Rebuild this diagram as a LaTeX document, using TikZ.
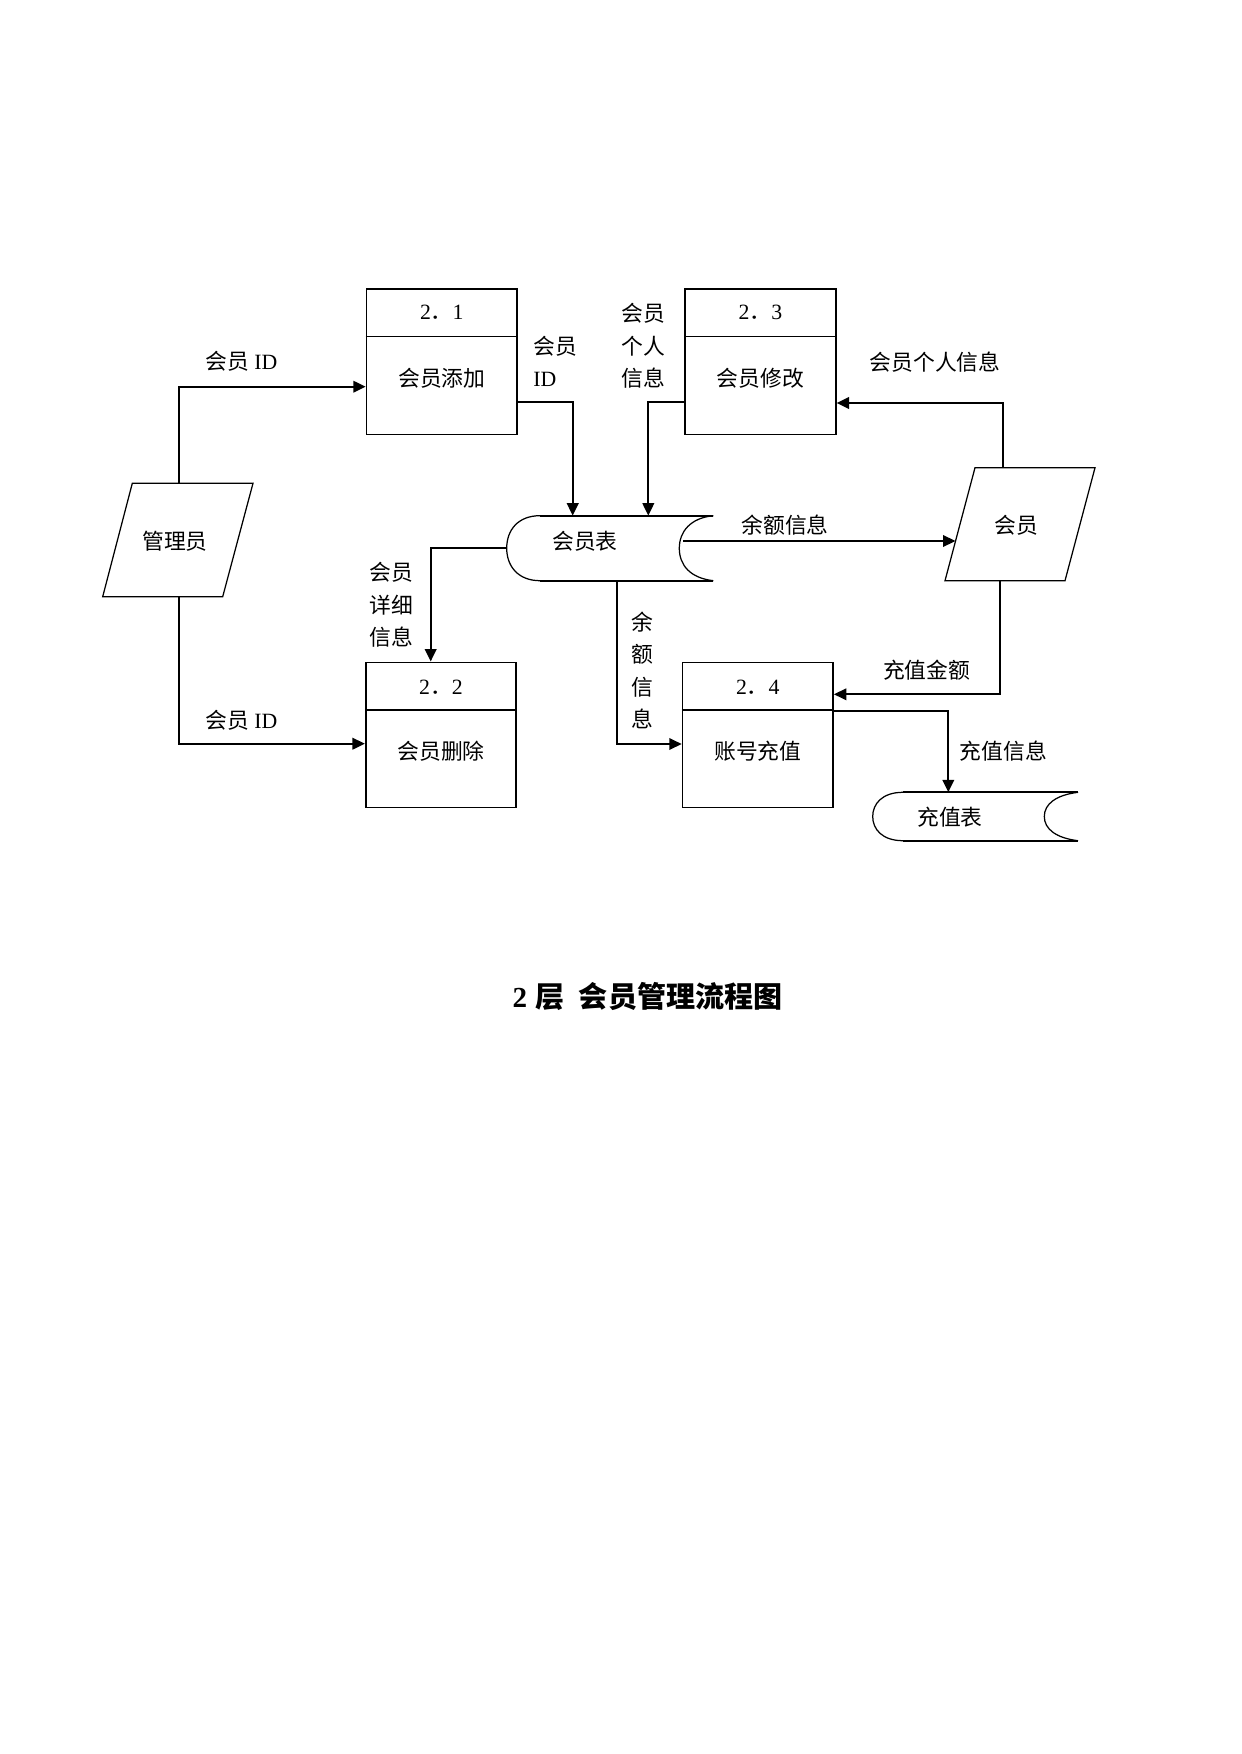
\documentclass[tikz,border=0pt]{standalone}
\usepackage{fontspec}
\setmainfont{Liberation Serif}
\newfontfamily\cjk{Noto Sans CJK SC}
\newfontfamily\latf{Liberation Serif}
\usetikzlibrary{arrows.meta,calc}
\begin{document}
\begin{tikzpicture}[x=0.4818pt,y=-0.4818pt,
  txt/.style={font=\cjk\fontsize{10.5}{15.6}\selectfont, inner sep=0pt, align=center},
  proc/.style={draw, line width=0.8pt, rectangle, minimum width=72.5pt, minimum height=70pt, inner sep=0pt},
  flow/.style={line width=1.1pt, -{Triangle[length=6pt,width=5.5pt]}},
  thinline/.style={line width=0.6pt},
  thickline/.style={line width=1.1pt},
  ]
\useasboundingbox (0,0) rectangle (1241,1754);

% ---------- process boxes ----------
\node[proc] (b21) at (441.8,361.7) {};
\node[proc] (b23) at (760.5,361.7) {};
\node[proc] (b22) at (441,735) {};
\node[proc] (b24) at (757.8,735) {};
\foreach \b in {b21,b23,b22,b24}{
  \draw[line width=0.7pt] ($(\b.north west)+(0,48.3)$) -- ($(\b.north east)+(0,48.3)$);
}
\node[txt] (t21) at ($(b21.north)+(0,24.5)$) {{\latf 2}．{\latf 1}};
\node[txt] (n21) at ($(b21.north)+(0,90)$) {会员添加};
\node[txt] (t23) at ($(b23.north)+(0,24.5)$) {{\latf 2}．{\latf 3}};
\node[txt] (n23) at ($(b23.north)+(0,90)$) {会员修改};
\node[txt] (t22) at ($(b22.north)+(0,25.5)$) {{\latf 2}．{\latf 2}};
\node[txt] (n22) at ($(b22.north)+(0,90)$) {会员删除};
\node[txt] (t24) at ($(b24.north)+(0,25.5)$) {{\latf 2}．{\latf 4}};
\node[txt] (n24) at ($(b24.north)+(0,90)$) {账号充值};

% ---------- external entities (parallelograms) ----------
\draw[thinline] (132.3,483.3) -- (253,483.3) -- (222.7,596.7) -- (102.7,596.7) -- cycle;
\node[txt] (mgr) at (175,541) {管理员};
\coordinate (mgrT) at (179,483.3);
\coordinate (mgrB) at (179,596.7);

\draw[thinline] (975,467.7) -- (1095,467.7) -- (1065,580.7) -- (945,580.7) -- cycle;
\node[txt] (hy) at (1016,525.7) {会员};
\coordinate (hyT) at (1002.7,467.7);
\coordinate (hyB) at (1000,580.7);
\coordinate (hyL) at (955.5,541);

% ---------- data stores ----------
\draw[thickline] (713.3,515.7) -- (540,515.7);
\draw[thickline] (540,580.7) -- (713.3,580.7);
\draw[thinline] (540,515.7) .. controls (518,515.7) and (506.7,530) .. (506.7,548.3)
  .. controls (506.7,566) and (518,580.7) .. (540,580.7);
\draw[thinline] (713.3,515.7) .. controls (690,518) and (679.3,532) .. (679.3,548.3)
  .. controls (679.3,565) and (690,578) .. (713.3,580.7);
\node[txt] (memtab) at (585,541.7) {会员表};
\coordinate (memT1) at (572.7,515.7);
\coordinate (memT2) at (648.3,515.7);
\coordinate (memL) at (506.7,548.3);
\coordinate (memB) at (616.7,580.7);
\coordinate (memR) at (683,541);

\draw[thickline] (1078,792.3) -- (903,792.3);
\draw[thickline] (903,840.7) -- (1078,840.7);
\draw[thinline] (903,792.3) .. controls (882,792.3) and (872.7,804) .. (872.7,816.5)
  .. controls (872.7,829) and (882,840.7) .. (903,840.7);
\draw[thinline] (1078,792.3) .. controls (1056,795) and (1044.3,804) .. (1044.3,816.5)
  .. controls (1044.3,829) and (1056,838) .. (1078,840.7);
\node[txt] (cztab) at (950,816.7) {充值表};
\coordinate (czT) at (948.3,792.3);

% ---------- flows ----------
\draw[flow] (mgrT) |- ($(b21.west)+(0,25)$);
\draw[flow] (mgrB) |- ($(b22.west)+(0,8.7)$);
\draw[flow] ($(b21.east)+(0,40.6)$) -| (memT1);
\draw[flow] ($(b23.west)+(0,40.6)$) -| (memT2);
\draw[flow] (memL) -| ($(b22.north)+(-10.3,0)$);
\draw[flow] (memB) |- ($(b24.west)+(0,9)$);
\draw[flow] (memR) -- (hyL);
\draw[flow] (hyT) |- ($(b23.east)+(0,41.3)$);
\draw[flow] (hyB) |- ($(b24.east)+(0,-40.7)$);
\draw[flow] ($(b24.east)+(0,-24)$) -| (czT);

% ---------- flow labels ----------
\node[txt] (l1) at (241.7,361.7) {会员 {\latf ID}};
\node[txt] (l2) at (241.7,720) {会员 {\latf ID}};
\node[txt, align=left, anchor=west] (l3) at (533,361.5) {会员\\{\latf ID}};
\node[txt] (l4) at (643.7,346) {会员\\个人\\信息};
\node[txt] (l5) at (935,361.7) {会员个人信息};
\node[txt] (l6) at (391.7,605) {会员\\详细\\信息};
\node[txt] (l7) at (785,525) {余额信息};
\node[txt] (l8) at (642.7,670.4) {余\\额\\信\\息};
\node[txt] (l9) at (926.7,670) {充值金额};
\node[txt] (l10) at (1003.3,750.7) {充值信息};

% ---------- caption ----------
\node[font=\cjk\bfseries\fontsize{14}{16}\selectfont, inner sep=0pt] (cap) at (647.5,996.7)
  {{\latf\bfseries 2}\hspace{4pt}层\hspace{7pt}会员管理流程图};
\end{tikzpicture}
\end{document}
